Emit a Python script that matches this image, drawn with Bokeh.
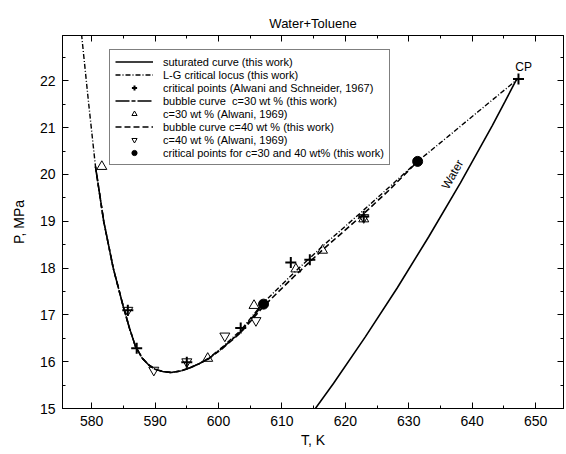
from bokeh.plotting import figure
from bokeh.models import (Range1d, LinearAxis, SingleIntervalTicker, Legend, LegendItem)
from bokeh.core.properties import value
from bokeh.embed import file_html
from bokeh.resources import INLINE

FONT = "Liberation Sans"

# Water saturation curve (steam tables)
water_T = [613.15, 618.15, 623.15, 628.15, 633.15, 638.15, 643.15, 645.15, 647.1]
water_P = [14.60, 15.54, 16.53, 17.57, 18.67, 19.82, 21.04, 21.55, 22.06]

# L-G critical locus of water+toluene (this work)
crit_T = [578.4, 579.5, 580.6, 581.9, 583.4, 585.0, 586.0, 586.9, 588.0, 589.0,
          590.0, 591.2, 592.5, 594.0, 595.5, 597.0, 598.5, 600.5, 603.5, 607.0,
          611.9, 616.5, 622.4, 627.0, 631.4, 636.0, 641.0, 647.3]
crit_P = [23.0, 21.55, 20.17, 19.0, 18.0, 17.17, 16.7, 16.33, 16.07, 15.93,
          15.84, 15.79, 15.77, 15.8, 15.87, 15.96, 16.08, 16.3, 16.67, 17.25,
          17.9, 18.48, 19.18, 19.74, 20.28, 20.79, 21.35, 22.05]

# Bubble curve c=30 wt %
b30_T = [580.6, 581.9, 583.4, 585.0, 586.0, 586.9, 588.0, 589.0, 590.0, 591.2,
         592.5, 594.0, 595.5, 597.0, 598.5, 600.5, 603.5, 607.0]
b30_P = [20.17, 19.0, 18.0, 17.17, 16.7, 16.33, 16.07, 15.93, 15.84, 15.79,
         15.77, 15.8, 15.87, 15.96, 16.07, 16.28, 16.64, 17.22]

# Bubble curve c=40 wt %
b40_T = [580.6, 581.9, 583.4, 585.0, 586.0, 586.9, 588.0, 589.0, 590.0, 591.2,
         592.5, 594.0, 595.5, 597.0, 598.5, 600.5, 603.5, 607.0, 611.9, 616.5,
         622.4, 627.0, 631.4]
b40_P = [20.17, 19.0, 18.0, 17.17, 16.7, 16.33, 16.07, 15.93, 15.84, 15.79,
         15.77, 15.8, 15.87, 15.96, 16.07, 16.27, 16.62, 17.17, 17.82, 18.4,
         19.1, 19.68, 20.28]

# Critical points (Alwani and Schneider, 1967)
as_T = [585.7, 587.1, 595.0, 603.5, 611.4, 614.4, 622.9, 647.3]
as_P = [17.1, 16.29, 15.99, 16.72, 18.12, 18.18, 19.1, 22.04]

# c=30 wt % (Alwani, 1969)
a30_T = [581.6, 598.3, 605.6, 612.2, 616.4, 622.9]
a30_P = [20.17, 16.07, 17.2, 17.98, 18.38, 19.05]

# c=40 wt % (Alwani, 1969)
a40_T = [585.7, 589.8, 595.0, 601.0, 605.9, 622.9]
a40_P = [17.1, 15.82, 16.0, 16.55, 16.88, 19.08]

# Critical points for c=30 and 40 wt% (this work)
cp_T = [607.1, 631.4]
cp_P = [17.23, 20.28]

p = figure(width=566, height=454, output_backend="svg", toolbar_location=None,
           x_range=Range1d(575.4, 654.4), y_range=Range1d(15, 22.97),
           title="Water+Toluene", min_border_left=62, min_border_right=3,
           min_border_top=35, min_border_bottom=46)
p.grid.visible = False
p.outline_line_color = "black"
p.background_fill_color = "white"
p.border_fill_color = "white"

p.title.align = "center"
p.title.text_font = FONT
p.title.text_font_size = "13px"
p.title.text_font_style = "normal"
p.title.text_color = "black"

def style_axis(ax, labels=True):
    ax.major_tick_in = 6
    ax.major_tick_out = 0
    ax.minor_tick_in = 3
    ax.minor_tick_out = 0
    ax.axis_line_color = "black"
    ax.major_tick_line_color = "black"
    ax.minor_tick_line_color = "black"
    ax.major_label_text_font = FONT
    ax.major_label_text_font_size = "14px"
    ax.major_label_text_color = "black"
    ax.axis_label_text_font = FONT
    ax.axis_label_text_font_size = "14px"
    ax.axis_label_text_font_style = "normal"
    ax.axis_label_text_color = "black"
    if not labels:
        ax.major_label_text_alpha = 0
        ax.major_label_text_font_size = "1px"

p.xaxis.ticker = SingleIntervalTicker(interval=10, num_minor_ticks=2)
p.yaxis.ticker = SingleIntervalTicker(interval=1, num_minor_ticks=2)
p.xaxis.axis_label = "T, K"
p.yaxis.axis_label = "P, MPa"
for ax in p.xaxis + p.yaxis:
    style_axis(ax)
p.xaxis.major_label_standoff = 7
p.xaxis.axis_label_standoff = 3
p.yaxis.major_label_standoff = 7
p.yaxis.axis_label_standoff = 10

top = LinearAxis(ticker=SingleIntervalTicker(interval=10, num_minor_ticks=2))
right = LinearAxis(ticker=SingleIntervalTicker(interval=1, num_minor_ticks=2))
style_axis(top, labels=False)
style_axis(right, labels=False)
p.add_layout(top, "above")
p.add_layout(right, "right")

r_water = p.line(water_T, water_P, line_color="black", line_width=1.6)
r_crit = p.line(crit_T, crit_P, line_color="black", line_width=1.4, line_dash="5 2 1 2")
r_b30 = p.line(b30_T, b30_P, line_color="black", line_width=1.6, line_dash="14 2 4 2")
r_b40 = p.line(b40_T, b40_P, line_color="black", line_width=1.6, line_dash="6 3")

r_as = p.scatter(as_T, as_P, marker="cross", size=11, line_color="black", line_width=2)
r_a30 = p.scatter(a30_T, a30_P, marker="triangle", size=10, line_color="black",
                  fill_color=None, line_width=1)
r_a40 = p.scatter(a40_T, a40_P, marker="inverted_triangle", size=10, line_color="black",
                  fill_color=None, line_width=1)
r_cp = p.scatter(cp_T, cp_P, marker="circle", size=10, line_color="black",
                 fill_color="black")

p.text(x=[648.1], y=[22.3], text=["CP"], text_font=value(FONT), text_font_size="12px",
       text_align="center", text_baseline="middle", text_color="black")
p.text(x=[636.9], y=[20.0], text=["Water"], text_font=value(FONT), text_font_size="12px",
       text_align="center", text_baseline="middle", angle=1.05, text_color="black")

items = [
    LegendItem(label="suturated curve (this work)", renderers=[r_water]),
    LegendItem(label="L-G critical locus (this work)", renderers=[r_crit]),
    LegendItem(label="critical points (Alwani and Schneider, 1967)", renderers=[r_as]),
    LegendItem(label="bubble curve  c=30 wt % (this work)", renderers=[r_b30]),
    LegendItem(label="c=30 wt % (Alwani, 1969)", renderers=[r_a30]),
    LegendItem(label="bubble curve c=40 wt % (this work)", renderers=[r_b40]),
    LegendItem(label="c=40 wt % (Alwani, 1969)", renderers=[r_a40]),
    LegendItem(label="critical points for c=30 and 40 wt% (this work)", renderers=[r_cp]),
]
legend = Legend(items=items, location=(47, 243))
legend.border_line_color = "black"
legend.border_line_width = 1
legend.background_fill_color = "white"
legend.background_fill_alpha = 1
legend.label_text_font = FONT
legend.label_text_font_size = "11px"
legend.label_text_color = "black"
legend.glyph_width = 38
legend.glyph_height = 13
legend.label_height = 13
legend.label_standoff = 10
legend.spacing = 0
legend.padding = 5
legend.margin = 0
p.add_layout(legend, "center")

open("out.html", "w").write(file_html(p, INLINE))
